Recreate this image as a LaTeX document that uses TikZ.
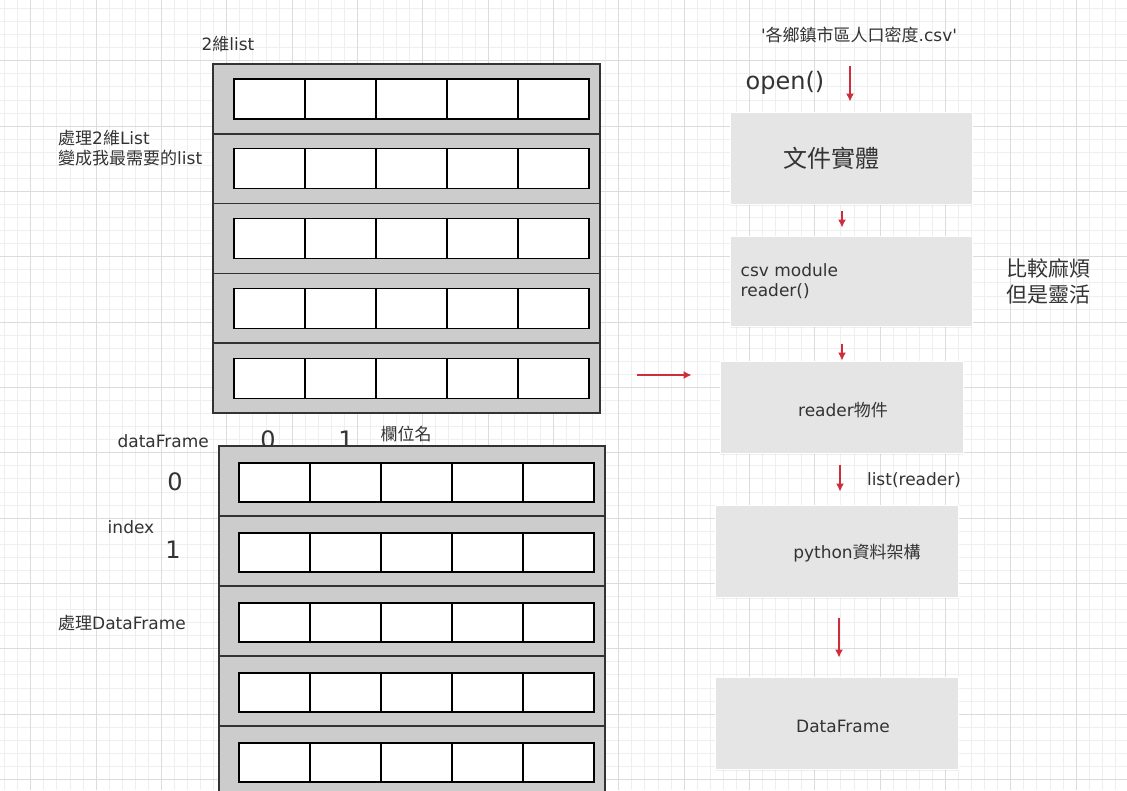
\documentclass[tikz,border=0pt]{standalone}
\usepackage{fontspec}
\setmainfont{DejaVu Sans}
\newfontfamily\cjk{Noto Sans CJK TC}
\newcommand{\zh}[1]{{\cjk #1}}
\usetikzlibrary{arrows.meta,shadows}

\definecolor{ink}{HTML}{333333}
\definecolor{arrowred}{RGB}{205,45,60}
\definecolor{gridminor}{HTML}{EFEFEF}
\definecolor{gridmajor}{HTML}{DCDCDC}
\definecolor{slabgray}{HTML}{CCCCCC}
\definecolor{stepfill}{HTML}{E5E5E5}

\tikzset{
  txt/.style={text=ink, inner sep=0pt, font=\fontsize{17}{20.5}\selectfont},
  bigtxt/.style={txt, font=\fontsize{24}{28}\selectfont},
  rowbox/.style={draw=ink, line width=1.6pt, fill=slabgray},
  cell/.style={draw=black, line width=1.3pt, fill=white},
  stepbox/.style={fill=stepfill, draw=white, line width=1pt,
    minimum width=242pt, minimum height=92pt,
    drop shadow={opacity=0.12, shadow xshift=0pt, shadow yshift=-2pt}},
  flow/.style={draw=arrowred, line width=1.3pt, -{Latex[length=8pt,width=8pt]}},
}

\begin{document}
\begin{tikzpicture}[x=1pt,y=-1pt]

\useasboundingbox (0,0) rectangle (1127,790);
\fill[white] (0,0) rectangle (1127,790);

% Grid paper
\foreach \i in {0,...,86}
  \draw[gridminor, line width=0.8pt] ({4.57+13.067*\i},0) -- ++(0,790);
\foreach \j in {0,...,60}
  \draw[gridminor, line width=0.8pt] (0,{8.43+13.067*\j}) -- ++(1127,0);
\foreach \i in {0,...,16}
  \draw[gridmajor, line width=0.9pt] ({30.7+65.33*\i},0) -- ++(0,790);
\foreach \j in {0,...,12}
  \draw[gridmajor, line width=0.9pt] (0,{-4.6+65.33*\j}) -- ++(1127,0);

% 2-D list
\node[txt] (listtitle) at (228,44) {2\zh{維}list};
\node[txt, anchor=west, align=left] (listnote) at (58,148)
  {\zh{處理}2\zh{維}List\\\zh{變成我最需要的}list};
\foreach \r in {0,...,4} {
  \draw[rowbox] (213,{64+69.8*\r}) rectangle ++(387,69.8);
  \foreach \c in {0,...,4}
    \draw[cell] ({234+71*\c},{79+69.8*\r}) rectangle ++(71,40);
}

% DataFrame
\node[bigtxt] (col0) at (268,440) {0};
\node[bigtxt] (col1) at (346,440) {1};
\node[txt] (colname) at (406,434) {\zh{欄位名}};
\node[txt, anchor=east] (dflabel) at (209,441) {dataFrame};
\node[bigtxt] (idx0) at (175,482) {0};
\node[txt] (idxlabel) at (131,527) {index};
\node[bigtxt] (idx1) at (173,550) {1};
\node[txt, anchor=west] (dfnote) at (58,623) {\zh{處理}DataFrame};
\foreach \r in {0,...,4} {
  \draw[rowbox] (219,{446+70*\r}) rectangle ++(386,70);
  \foreach \c in {0,...,4}
    \draw[cell] ({239+71*\c},{463+70*\r}) rectangle ++(71,39);
}

% Reading steps
\node[txt] (csvname) at (859,35)
  {\textquotesingle\zh{各鄉鎮市區人口密度}.csv\textquotesingle};
\node[bigtxt] (openlbl) at (785,83) {open()};

\node[stepbox] (file) at (851,158) {};
\node[stepbox, minimum height=90pt] (module) at (851,281) {};
\node[stepbox, minimum width=243pt] (rdobj) at (841.5,407) {};
\node[stepbox, minimum width=243pt] (pyds) at (836.5,551) {};
\node[stepbox, minimum width=243pt] (df) at (836.5,723) {};

\node[bigtxt] at ([xshift=-20pt]file.center) {\zh{文件實體}};
\node[txt, anchor=west, align=left] at ([xshift=11pt]module.west)
  {csv module\\reader()};
\node[txt, font=\fontsize{21}{26}\selectfont, anchor=west, align=left] (remark)
  at (1006,281) {\zh{比較麻煩}\\\zh{但是靈活}};
\node[txt] at ([xshift=1.5pt,yshift=-3pt]rdobj.center) {reader\zh{物件}};
\node[txt] (listlbl) at (914,480) {list(reader)};
\node[txt] at ([xshift=20.5pt,yshift=-2pt]pyds.center) {python\zh{資料架構}};
\node[txt] at ([xshift=6.5pt,yshift=-3pt]df.center) {DataFrame};

% Arrows
\coordinate (openstart) at (850,66);
\draw[flow, shorten >=10pt] (openstart) -- (openstart |- file.north);
\draw[flow, shorten <=6pt, shorten >=8pt] ([xshift=-9pt]file.south) -- ([xshift=-9pt]module.north);
\draw[flow, shorten <=17pt] ([xshift=-9pt]module.south) -- ([xshift=0.5pt]rdobj.north);
\draw[flow, shorten <=11pt, shorten >=13pt] ([xshift=-1.5pt]rdobj.south) -- ([xshift=3.5pt]pyds.north);
\draw[flow, shorten <=20pt, shorten >=19pt] ([xshift=2.5pt]pyds.south) -- ([xshift=2.5pt]df.north);
\coordinate (liststart) at (637,375);
\draw[flow, shorten >=28pt] (liststart) -- (liststart -| rdobj.west);

\end{tikzpicture}
\end{document}
